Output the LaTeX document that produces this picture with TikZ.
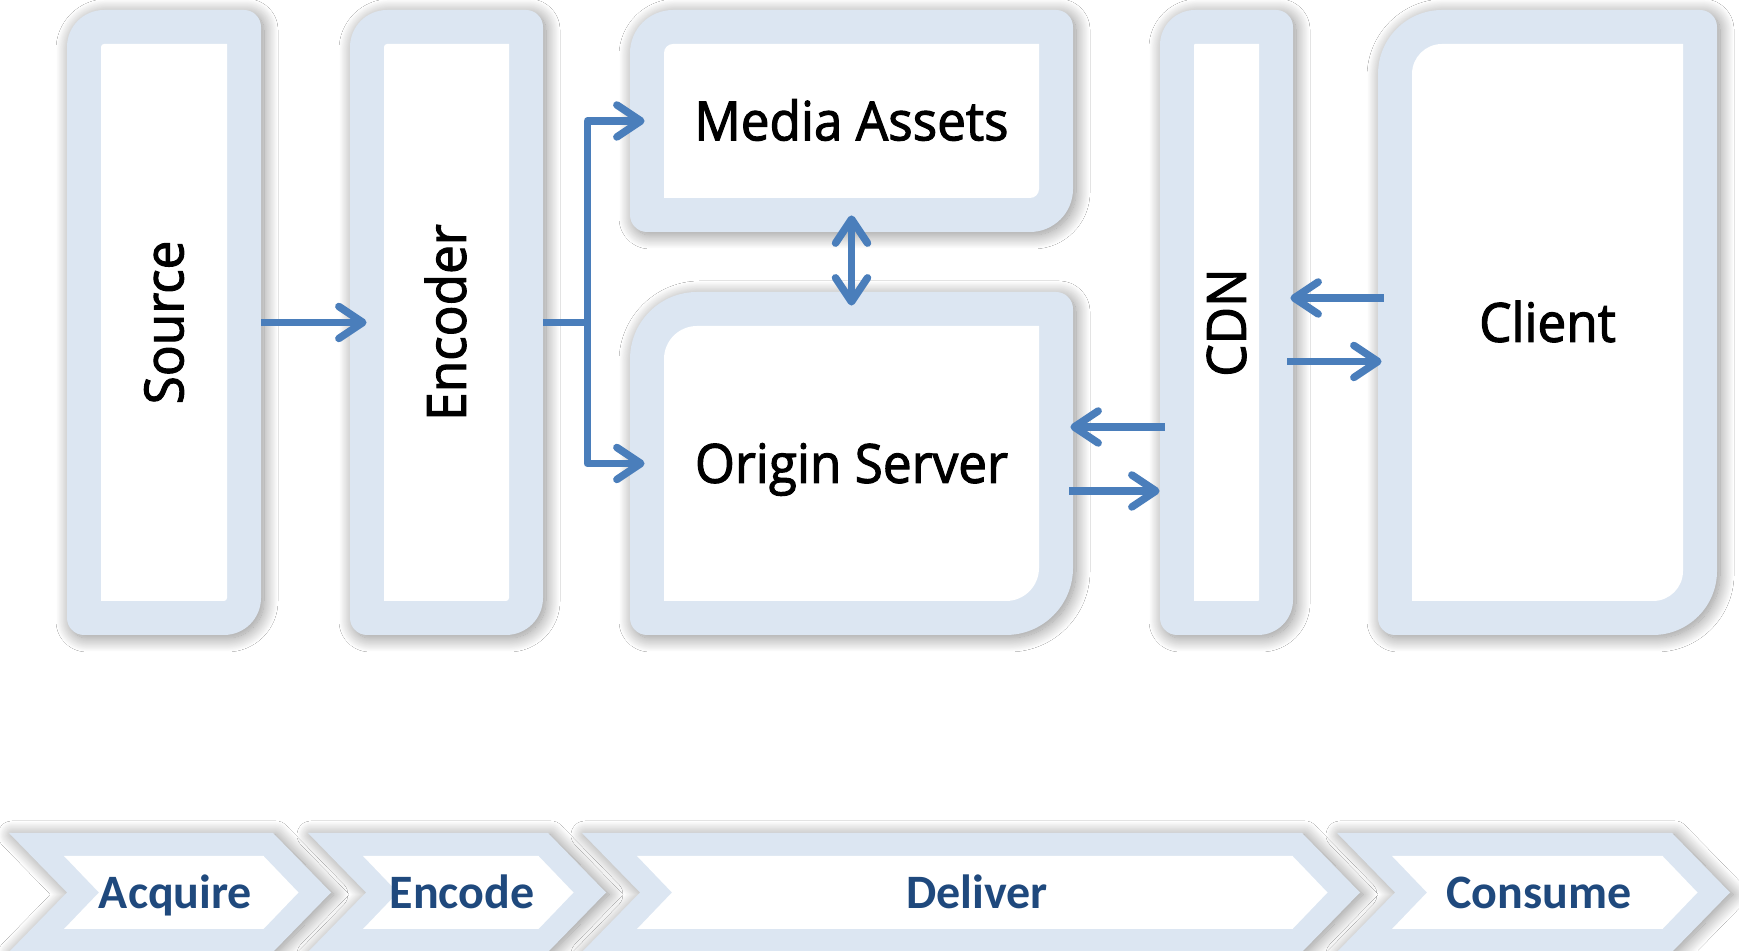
\documentclass[tikz,border=0pt]{standalone}
\usepackage{fontspec}
\usetikzlibrary{arrows.meta,calc,fit,shadows.blur}
\newfontfamily\segfont{Open Sans}[FakeStretch=0.95,FakeBold=2]
\newfontfamily\calfont{Carlito}
\definecolor{frameblue}{HTML}{DCE6F2}
\definecolor{arrowblue}{HTML}{4A7EBB}
\definecolor{labelblue}{HTML}{1F497D}
% #1 style, #2 left, #3 top, #4 right, #5 bottom, #6 big radius (TL,BR), #7 small radius (TR,BL)
\newcommand\rdbox[7]{\path[#1] (#2+#6,#3) -- (#4-#7,#3) arc[start angle=90,end angle=0,radius=#7] -- (#4,#5+#6) arc[start angle=0,end angle=-90,radius=#6] -- (#2+#7,#5) arc[start angle=270,end angle=180,radius=#7] -- (#2,#3-#6) arc[start angle=180,end angle=90,radius=#6] -- cycle;}
\newcommand\chev[2]{\path[chevouter] (#1,118) -- (#2,118) -- (#2+58,58.5) -- (#2,-1) -- (#1,-1) -- (#1+58,58.5) -- cycle;
  \path[fill=white] (#1+55,95) -- (#2-9.5,95) -- (#2+25.5,58.5) -- (#2-9.5,22) -- (#1+55,22) -- (#1+90,58.5) -- cycle;}
\tikzset{
  outerframe/.style={fill=frameblue, blur shadow={shadow xshift=1.5pt, shadow yshift=-1.5pt, shadow blur radius=7pt, shadow blur steps=25, shadow opacity=45}},
  innerframe/.style={fill=white},
  chevouter/.style={fill=frameblue, blur shadow={shadow xshift=1.5pt, shadow yshift=-1pt, shadow blur radius=7pt, shadow blur steps=25, shadow opacity=45}},
  boxnode/.style={inner sep=0pt, draw=none},
  mainlbl/.style={font=\segfont\fontsize{27pt}{30pt}\selectfont, text height=19.3pt, text depth=0pt, inner sep=0pt, anchor=center},
  chevlbl/.style={font=\calfont\bfseries\fontsize{24pt}{28pt}\selectfont, text=labelblue, text height=15.5pt, text depth=0pt, inner sep=0pt, anchor=center},
  arr/.style={draw=arrowblue, line width=3.75pt, line join=round, -{Straight Barb[round,length=12pt,width=16pt]}},
  arrboth/.style={draw=arrowblue, line width=3.75pt, {Straight Barb[round,length=12pt,width=16pt]}-{Straight Barb[round,length=12pt,width=16pt]}}
}
\begin{document}
\begin{tikzpicture}[x=0.5pt,y=0.5pt]
\useasboundingbox (0,0) rectangle (1739,951);
\fill[white] (0,0) rectangle (1739,951);
% boxes
\rdbox{outerframe}{67}{941}{261}{316}{37}{17}
\rdbox{innerframe}{101}{907}{227}{350}{3}{0.01}
\rdbox{outerframe}{350}{941}{543}{316}{37}{17}
\rdbox{innerframe}{384}{907}{509}{350}{3}{0.01}
\rdbox{outerframe}{630}{941}{1073}{719}{43}{17}
\rdbox{innerframe}{664}{907}{1039}{753}{9}{0.01}
\rdbox{outerframe}{630}{659}{1073}{316}{67}{17}
\rdbox{innerframe}{664}{625}{1039}{350}{33}{0.01}
\rdbox{outerframe}{1160}{941}{1293}{316}{35}{17}
\rdbox{innerframe}{1194}{907}{1259}{350}{1}{0.01}
\rdbox{outerframe}{1378}{941}{1717}{316}{64}{17}
\rdbox{innerframe}{1412}{907}{1683}{350}{30}{0.01}
\node[boxnode, fit={(67,941) (261,316)}] (src) {};
\node[boxnode, fit={(350,941) (543,316)}] (enc) {};
\node[boxnode, fit={(630,941) (1073,719)}] (ma) {};
\node[boxnode, fit={(630,659) (1073,316)}] (os) {};
\node[boxnode, fit={(1160,941) (1293,316)}] (cdn) {};
\node[boxnode, fit={(1378,941) (1717,316)}] (cl) {};
% chevrons
\chev{9}{273}
\chev{308}{548}
\chev{582}{1302}
\chev{1337}{1672}
% labels
\node[mainlbl, rotate=90] (srcL) at (src.center) {Source};
\node[mainlbl, rotate=90] (encL) at (enc.center) {Encoder};
\node[mainlbl] (maL) at (ma.center) {Media Assets};
\node[mainlbl] (osL) at (os.center) {Origin Server};
\node[mainlbl, rotate=90] (cdnL) at (cdn.center) {CDN};
\node[mainlbl] (clL) at (cl.center) {Client};
\node[chevlbl] (acq) at (175.5,57.5) {Acquire};
\node[chevlbl] (encd) at (462,57.5) {Encode};
\node[chevlbl] (dlv) at (977,57.5) {Deliver};
\node[chevlbl] (cons) at (1539,57.5) {Consume};
% connectors
\draw[arr] (src.east) -- ($(enc.west)+(17,0)$);
\coordinate (br) at ($(enc.east)+(44,0)$);
\draw[arr] (enc.east) -- (br) |- ($(ma.west)+(15,0)$);
\draw[arr] (br) |- ($(os.west)+(15,0)$);
\draw[arrboth] ($(ma.south)+(0,17)$) -- ($(os.north)+(0,-14)$);
\draw[arr] ($(cdn.west |- os.east)+(5,36.5)$) -- ($(os.east)+(-3,36.5)$);
\draw[arr] ($(os.east)+(-4,-27.5)$) -- ($(cdn.west |- os.east)+(0,-27.5)$);
\draw[arr] ($(cl.west)+(6,24.5)$) -- ($(cdn.east)+(-3,24.5)$);
\draw[arr] ($(cdn.east)+(-6,-39)$) -- ($(cl.west)+(4,-39)$);
\end{tikzpicture}
\end{document}
